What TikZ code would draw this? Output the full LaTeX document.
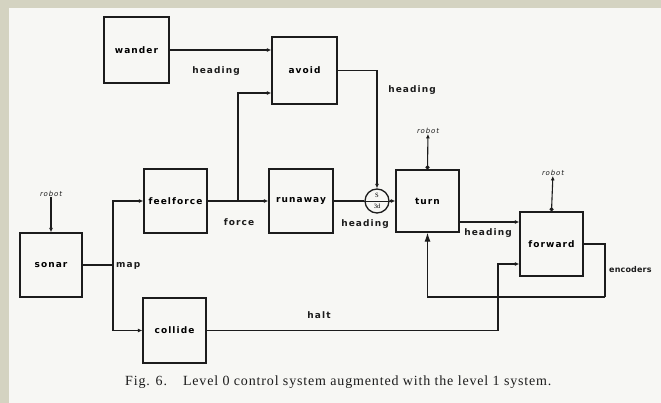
\documentclass[tikz,border=0pt]{standalone}
\usepackage{fontspec}
\setmainfont{Liberation Serif}
\newfontfamily\labfont[LetterSpace=12]{DejaVu Sans}
\newfontfamily\encfont[LetterSpace=2]{DejaVu Sans}
\newfontfamily\capfont[LetterSpace=6]{Liberation Serif}
\usetikzlibrary{positioning,arrows.meta,calc}
\definecolor{frame}{HTML}{D4D3C1}
\definecolor{paper}{HTML}{F7F7F4}
\definecolor{ink}{HTML}{1C1C1C}

\begin{document}
\begin{tikzpicture}[
  x=1pt, y=-1pt, >={Latex[length=4.5pt,width=4pt]},
  box/.style={draw=ink, line width=1.3pt, minimum width=63pt, minimum height=64pt,
              inner sep=0pt, font=\labfont\bfseries\fontsize{9}{10}\selectfont},
  lbl/.style={inner sep=0pt, font=\labfont\bfseries\fontsize{9}{10}\selectfont, text=ink},
  rob/.style={inner sep=0pt, font=\labfont\fontsize{7}{7}\selectfont\itshape, text=ink},
  arr/.style={->, draw=ink, line width=1.1pt},
  ln/.style={draw=ink, line width=1.1pt},
]
\fill[frame] (0,0) rectangle (661,403);
\fill[paper] (9,8) rectangle (661,403);
\useasboundingbox (0,0) rectangle (661,403);

\node[box, minimum width=65pt, minimum height=66pt] (wander) at (136.5,50) {wander};
\node[box, minimum width=65pt, minimum height=67pt] (avoid) at (304.5,70.5) {avoid};
\node[box, minimum width=62pt] (sonar) at (51,265) {sonar};
\node[box] (feelforce) at (175.5,201) {feelforce};
\node[box, minimum width=64pt] (runaway) at (301,201) {runaway};
\node[box, minimum height=65pt] (collide) at (174.5,330.5) {collide};
\node[box, minimum height=62pt] (turn) at (427.5,201) {turn};
\node[box] (forward) at (551.5,244) {forward};
\node[draw=ink, line width=1.3pt, circle, minimum size=24pt, inner sep=0pt] (sup) at (377,201) {};
\draw[ln, line width=0.8pt] (sup.west) -- (sup.east);
\node[inner sep=0pt, font=\fontsize{6.5}{6}\selectfont] (supS) at (377,195.5) {S};
\node[inner sep=0pt, font=\fontsize{6.5}{6}\selectfont] (supD) at (377,206.5) {3d};

\node[rob] (robotS) at (51,194) {robot};
\node[rob] (robotT) at (428,131) {robot};
\node[rob] (robotF) at (553,173) {robot};

\coordinate (mb) at (113,265);
\coordinate (fb) at (238,201);
\coordinate (hk) at (498,264);
\coordinate (enc) at (605,297);

\draw[arr] (robotS) -- (sonar.north);
\draw[ln] (sonar.east) -- (mb);
\draw[arr] (mb) |- (feelforce.west);
\draw[arr] (mb) |- (collide.west);
\draw[arr] (feelforce.east) -- (runaway.west);
\draw[arr] (fb) |- ([yshift=-22.5pt]avoid.west);
\draw[arr] (wander.east) -- (wander.east -| avoid.west);
\draw[arr] (avoid.east) -| (sup.north);
\draw[ln] (runaway.east) -- (sup.west);
\draw[arr] (sup.east) -- (turn.west);
\draw[arr, {Circle[length=4pt]}-{Latex[length=4.5pt,width=4pt]}] (turn.north) -- (robotT);
\draw[arr] ([yshift=-21pt]turn.east) -- ([yshift=-21pt]turn.east -| forward.west);
\draw[arr, {Circle[length=4pt]}-{Latex[length=4.5pt,width=4pt]}] (forward.north) -- (robotF);
\draw[ln] (forward.east) -| (enc);
\draw[->, draw=ink, line width=1.1pt, >={Latex[length=9pt,width=6pt]}] (enc) -| (turn.south);
\draw[arr] (collide.east) -| (hk) -- (hk -| forward.west);

\node[lbl] (hd1) at (216,71) {heading};
\node[lbl] (hd2) at (412,90) {heading};
\node[lbl] (hd3) at (365,224) {heading};
\node[lbl] (hd4) at (488,233) {heading};
\node[lbl] (force) at (239,222) {force};
\node[lbl, anchor=west] (map) at (116,266) {map};
\node[lbl] (halt) at (319,315) {halt};
\node[inner sep=0pt, anchor=west, text=ink, font=\encfont\bfseries\fontsize{8}{9}\selectfont] (encoders) at (609,270) {encoders};

\node[anchor=west, inner sep=0pt, text=ink, font=\capfont\fontsize{14}{14}\selectfont] (caption) at (125,382)
  {Fig. 6.\hspace{16pt}Level 0 control system augmented with the level 1 system.};
\end{tikzpicture}
\end{document}
